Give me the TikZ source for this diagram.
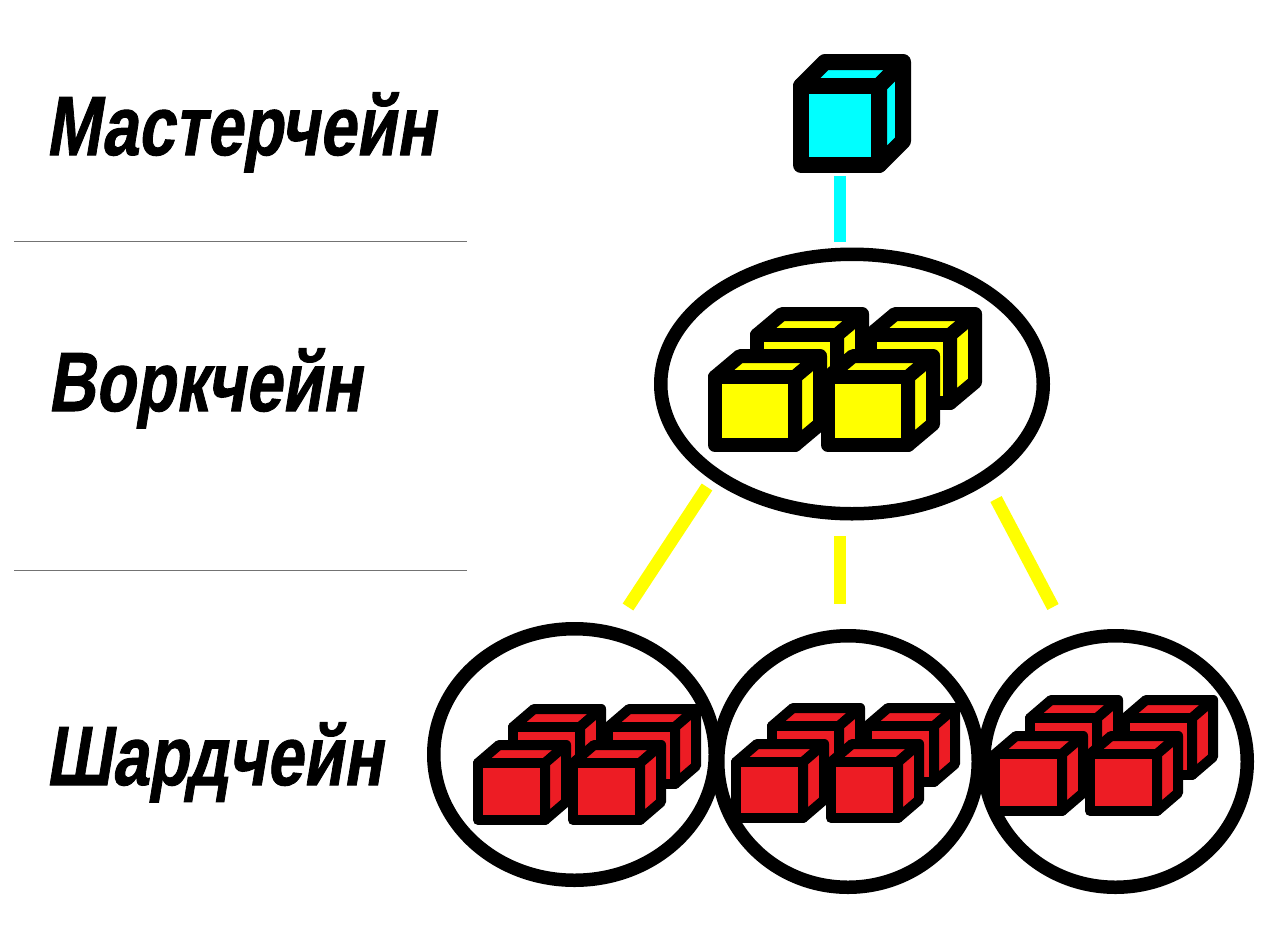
\documentclass[tikz,border=0pt]{standalone}
\usepackage{fontspec}
\setmainfont{Liberation Sans}
\newfontfamily\labfont[UprightFont=* Bold,FakeSlant=0.21,FakeBold=1.2]{Liberation Sans}
\usetikzlibrary{shapes.geometric}
\newcommand{\cubeone}[8]{% x y w h dx dy lw colour (front-face centreline top-left)
  \begin{scope}[line width=#7pt,draw=black,fill=#8,line join=round]
    \filldraw (#1,#2) -- ++(#5,-#6) -- ++(#3,0) -- ++(-#5,#6) -- cycle;
    \filldraw (#1+#3,#2) -- ++(#5,-#6) -- ++(0,#4) -- ++(-#5,#6) -- cycle;
    \filldraw (#1,#2) rectangle ++(#3,#4);
  \end{scope}}
\definecolor{cy}{RGB}{0,255,255}
\definecolor{ye}{RGB}{255,255,0}
\definecolor{rd}{RGB}{237,28,36}
\tikzset{
  ring/.style={draw=black,line width=13.5pt,fill=none,ellipse,inner sep=0pt},
  rule/.style={draw=black!55,line width=0.8pt},
  link/.style={line width=12.7pt},
  label/.style={font=\labfont\fontsize{84}{84}\selectfont,inner sep=0pt,anchor=base west,xscale=0.78}
}
\begin{document}
\begin{tikzpicture}[x=1pt,y=-1pt]
\useasboundingbox (0,0) rectangle (1280,943);
\node[label] (t1) at (45.5,155) {Мастерчейн};
\node[label] (t2) at (47.5,411) {Воркчейн};
\node[label] (t3) at (45.5,785) {Шардчейн};
\coordinate (r1a) at (14,241); \coordinate (r1b) at (467,241);
\coordinate (r2a) at (14,570); \coordinate (r2b) at (467,570);
\draw[rule] (r1a) -- (r1b);
\draw[rule] (r2a) -- (r2b);
\cubeone{801}{86}{78}{79}{24}{24}{16}{cy}
\coordinate (c1) at (840,176); \coordinate (c2) at (840,242);
\draw[link,draw=cy] (c1) -- (c2);
\coordinate (y1a) at (707,487); \coordinate (y1b) at (628,607);
\coordinate (y2a) at (840,536); \coordinate (y2b) at (840,604);
\coordinate (y3a) at (996,499); \coordinate (y3b) at (1053,607);
\draw[link,draw=ye] (y1a) -- (y1b);
\draw[link,draw=ye] (y2a) -- (y2b);
\draw[link,draw=ye] (y3a) -- (y3b);
\node[ring,minimum width=382.5pt,minimum height=259.5pt] (e0) at (852,384) {};
\node[ring,minimum width=281.5pt,minimum height=251.5pt] (e1) at (574.5,754.5) {};
\node[ring,minimum width=260.5pt,minimum height=251.5pt] (e2) at (848,761.5) {};
\node[ring,minimum width=263.5pt,minimum height=251.5pt] (e3) at (1115.5,761.5) {};
% yellow
\cubeone{870}{335}{80}{68}{25}{21}{14}{ye}
\cubeone{757}{335}{80}{68}{25}{21}{14}{ye}
\cubeone{828}{377}{80}{68}{25}{21}{14}{ye}
\cubeone{715}{377}{80}{68}{25}{21}{14}{ye}
% red groups
\cubeone{608}{727}{67}{57}{21}{18}{10}{rd}
\cubeone{513}{727}{67}{57}{21}{18}{10}{rd}
\cubeone{573}{763}{67}{57}{21}{18}{10}{rd}
\cubeone{478}{763}{67}{57}{21}{18}{10}{rd}
\cubeone{867}{726}{67}{56}{21}{18}{10}{rd}
\cubeone{772}{726}{67}{56}{21}{18}{10}{rd}
\cubeone{831}{762}{67}{56}{21}{18}{10}{rd}
\cubeone{736}{762}{67}{56}{21}{18}{10}{rd}
\cubeone{1125}{718}{67}{57}{21}{18}{10}{rd}
\cubeone{1030}{718}{67}{57}{21}{18}{10}{rd}
\cubeone{1090}{754}{67}{57}{21}{18}{10}{rd}
\cubeone{995}{754}{67}{57}{21}{18}{10}{rd}
\end{tikzpicture}
\end{document}
